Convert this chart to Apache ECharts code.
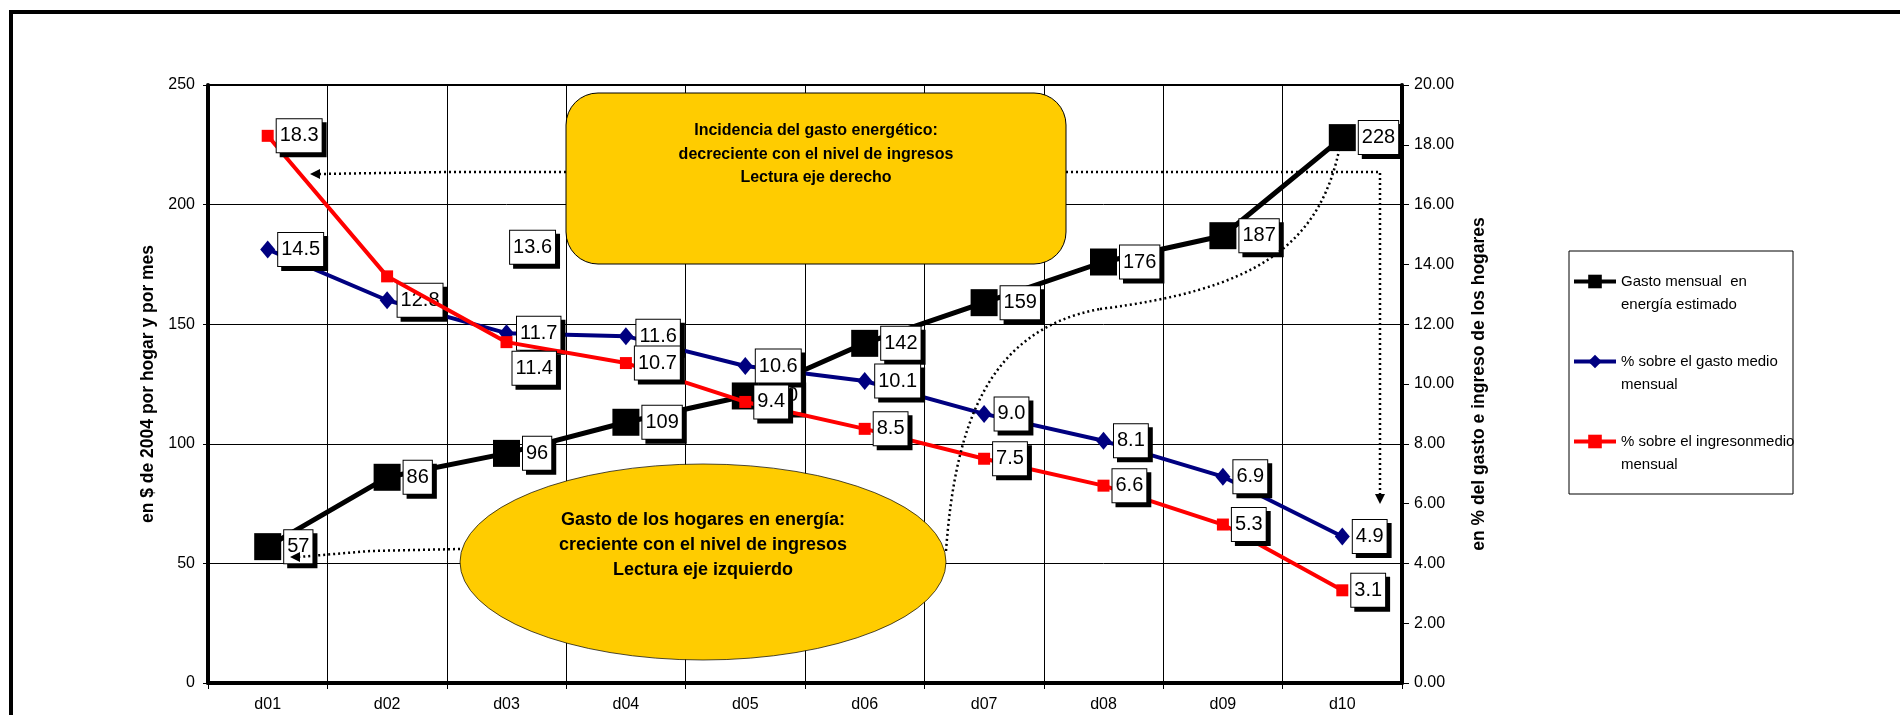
<!DOCTYPE html>
<html>
<head>
<meta charset="utf-8">
<title>Gasto energético de los hogares por decil</title>
<script src="https://cdn.jsdelivr.net/npm/echarts@6/dist/echarts.min.js"></script>
<style>
  html, body { margin: 0; padding: 0; background: #fff; }
  #chart { width: 1900px; height: 715px; }
</style>
</head>
<body>
<div id="chart"></div>
<script>
// deciles de ingreso
var deciles = ['d01', 'd02', 'd03', 'd04', 'd05', 'd06', 'd07', 'd08', 'd09', 'd10'];
// gasto mensual en energia ($ de 2004, eje izquierdo)
var gastoMensual = [57, 86, 96, 109, 120, 142, 159, 176, 187, 228];
// % sobre el gasto medio mensual (eje derecho)
var pctGasto = [14.5, 12.8, 11.7, 11.6, 10.6, 10.1, 9.0, 8.1, 6.9, 4.9];
// % sobre el ingreso medio mensual (eje derecho)
var pctIngreso = [18.3, 13.6, 11.4, 10.7, 9.4, 8.5, 7.5, 6.6, 5.3, 3.1];
// escalas: [min, max, intervalo]
var ejeIzq = [0, 250, 50];
var ejeDer = [0, 20, 2];
var nombres = [
  'Gasto mensual  en\nenergía estimado',
  '% sobre el gasto medio\nmensual',
  '% sobre el ingresonmedio\nmensual'
];

var FONT = '"Liberation Sans", Arial, sans-serif';

function boxLabel(fmt) {
  return {
    show: true,
    position: 'right',
    distance: 3,
    color: '#000',
    fontSize: 20,
    lineHeight: 22,
    fontFamily: FONT,
    backgroundColor: '#fff',
    borderColor: '#000',
    borderWidth: 1,
    padding: [6, 3, 5, 3],
    shadowColor: '#000',
    shadowOffsetX: 4,
    shadowOffsetY: 4,
    shadowBlur: 0,
    formatter: fmt
  }
}

var fmtPct = function(p) { return p.value.toFixed(1) }

// dos etiquetas estan desplazadas en el original
var dataIngreso = pctIngreso.map(function(v, i) {
  if (i === 1) return { value: v, label: { offset: [114, -29] } }
  if (i === 2) return { value: v, label: { offset: [-3, 26] } }
  return v
})

function dotted(points) {
  return {
    type: 'polyline',
    shape: { points: points },
    style: { stroke: '#000', lineWidth: 2.5, lineDash: [2, 3], fill: null },
    silent: true,
    z: 100
  }
}
function dottedCurve(s) {
  return {
    type: 'bezierCurve',
    shape: s,
    style: { stroke: '#000', lineWidth: 2.5, lineDash: [2, 3], fill: null },
    silent: true,
    z: 100
  }
}
function arrow(points) {
  return {
    type: 'polygon',
    shape: { points: points },
    style: { fill: '#000' },
    silent: true,
    z: 100
  }
}

var chart = echarts.init(document.getElementById('chart'))
chart.setOption({
  backgroundColor: '#fff',
  animation: false,
  textStyle: { fontFamily: FONT, color: '#000' },
  grid: {
    left: 208,
    right: 498,
    top: 85,
    bottom: 32,
    show: true,
    borderColor: '#000',
    borderWidth: 2,
    backgroundColor: '#fff'
  },
  legend: {
    orient: 'vertical',
    left: 1572,
    top: 247,
    itemWidth: 42,
    itemHeight: 17,
    itemGap: 11,
    padding: 0,
    data: nombres,
    lineStyle: { width: 4 },
    // linea en blanco arriba para que el icono quede en la primera linea
    formatter: function(name) { return '\n' + name },
    textStyle: {
      fontSize: 15,
      fontFamily: FONT,
      color: '#000',
      lineHeight: 23
    }
  },
  xAxis: {
    type: 'category',
    data: deciles,
    boundaryGap: true,
    axisLine: { lineStyle: { color: '#000', width: 4 } },
    axisTick: { show: true, length: 6, lineStyle: { color: '#000', width: 1 } },
    axisLabel: { color: '#000', fontSize: 16, margin: 14 },
    splitLine: { show: true, lineStyle: { color: '#000', width: 1 } }
  },
  yAxis: [
    {
      type: 'value',
      min: ejeIzq[0],
      max: ejeIzq[1],
      interval: ejeIzq[2],
      name: 'en $ de 2004 por hogar y por mes',
      nameLocation: 'middle',
      nameGap: 47,
      nameTextStyle: { fontSize: 17.5, fontWeight: 'bold', color: '#000' },
      axisLine: { show: true, lineStyle: { color: '#000', width: 4 } },
      axisTick: { show: true, length: 5, lineStyle: { color: '#000' } },
      axisLabel: { color: '#000', fontSize: 16, margin: 13 },
      splitLine: { show: true, lineStyle: { color: '#000', width: 1 } }
    },
    {
      type: 'value',
      position: 'right',
      min: ejeDer[0],
      max: ejeDer[1],
      interval: ejeDer[2],
      name: 'en % del gasto e ingreso de los hogares',
      nameLocation: 'middle',
      nameGap: 68,
      nameRotate: 90,
      nameTextStyle: { fontSize: 17.5, fontWeight: 'bold', color: '#000' },
      axisLine: { show: true, lineStyle: { color: '#000', width: 4 } },
      axisTick: { show: true, length: 7, lineStyle: { color: '#000' } },
      axisLabel: {
        color: '#000',
        fontSize: 16,
        margin: 12,
        formatter: function(v) { return v.toFixed(2) }
      },
      splitLine: { show: false }
    }
  ],
  series: [
    {
      name: nombres[0],
      type: 'line',
      yAxisIndex: 0,
      data: gastoMensual,
      symbol: 'rect',
      symbolSize: 27,
      itemStyle: { color: '#000' },
      lineStyle: { color: '#000', width: 5 },
      label: boxLabel('{c}'),
      z: 2
    },
    {
      name: nombres[1],
      type: 'line',
      yAxisIndex: 1,
      data: pctGasto,
      symbol: 'diamond',
      symbolSize: [15, 18],
      itemStyle: { color: '#000080' },
      lineStyle: { color: '#000080', width: 4 },
      label: boxLabel(fmtPct),
      z: 3
    },
    {
      name: nombres[2],
      type: 'line',
      yAxisIndex: 1,
      data: dataIngreso,
      symbol: 'rect',
      symbolSize: 12,
      itemStyle: { color: '#ff0000' },
      lineStyle: { color: '#ff0000', width: 4 },
      label: boxLabel(fmtPct),
      z: 4
    }
  ],
  graphic: [
    // marco exterior
    {
      type: 'rect',
      shape: { x: 11, y: 12, width: 1940, height: 760 },
      style: { fill: null, stroke: '#000', lineWidth: 4 },
      silent: true,
      z: 100
    },
    // recuadro de la leyenda
    {
      type: 'rect',
      shape: { x: 1569, y: 251, width: 224, height: 243 },
      style: { fill: null, stroke: '#000', lineWidth: 1 },
      silent: true,
      z: 100
    },
    // flechas punteadas
    dotted([[566, 172], [448, 172], [318, 174]]),
    arrow([[310, 174], [320, 169], [320, 179]]),
    dotted([[1066, 172], [1380, 172], [1380, 496]]),
    arrow([[1380, 504], [1375, 494], [1385, 494]]),
    dotted([[460, 549], [370, 551], [298, 557]]),
    arrow([[290, 557], [300, 552], [300, 562]]),
    dottedCurve({ x1: 946, y1: 551, cpx1: 955, cpy1: 430, cpx2: 985, cpy2: 330, x2: 1100, y2: 309 }),
    dottedCurve({ x1: 1100, y1: 309, cpx1: 1250, cpy1: 290, cpx2: 1322, cpy2: 250, x2: 1341, y2: 140 }),
    // recuadro: incidencia
    {
      type: 'rect',
      shape: { x: 566, y: 93, width: 500, height: 171, r: 32 },
      style: { fill: '#FFCC00', stroke: '#000', lineWidth: 1 },
      silent: true,
      z: 101
    },
    {
      type: 'text',
      x: 816,
      y: 119,
      style: {
        text: 'Incidencia del gasto energético:\ndecreciente con el nivel de ingresos\nLectura eje derecho',
        font: 'bold 16px ' + FONT,
        fill: '#000',
        align: 'center',
        verticalAlign: 'top',
        lineHeight: 23.5
      },
      silent: true,
      z: 102
    },
    // elipse: gasto (circulo escalado)
    {
      type: 'circle',
      x: 703,
      y: 562,
      scaleY: 98 / 243,
      shape: { cx: 0, cy: 0, r: 243 },
      style: { fill: '#FFCC00', stroke: '#000', lineWidth: 1, strokeNoScale: true },
      silent: true,
      z: 101
    },
    {
      type: 'text',
      x: 703,
      y: 508,
      style: {
        text: 'Gasto de los hogares en energía:\ncreciente con el nivel de ingresos\nLectura eje izquierdo',
        font: 'bold 18px ' + FONT,
        fill: '#000',
        align: 'center',
        verticalAlign: 'top',
        lineHeight: 25
      },
      silent: true,
      z: 102
    }
  ]
})
</script>
</body>
</html>
